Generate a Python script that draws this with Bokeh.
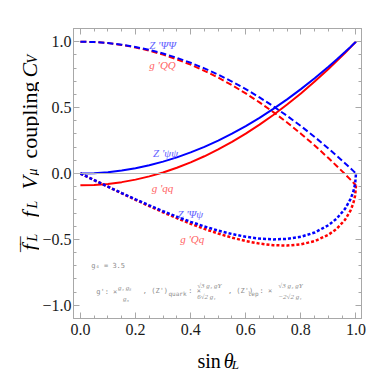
import math
from bokeh.plotting import figure
from bokeh.models import Label, LinearAxis, FixedTicker, Range1d, Span
from bokeh.layouts import row, column
from bokeh.embed import file_html
from bokeh.resources import INLINE

# ---- data ----
sin_theta = [0.0, 0.05, 0.1, 0.15, 0.2, 0.25, 0.3, 0.35, 0.4, 0.45, 0.5, 0.55,
             0.6, 0.65, 0.7, 0.75, 0.8, 0.85, 0.9, 0.93, 0.96, 0.98, 0.99, 0.997, 1.0]
# Z' psi psi (blue solid)
z_psi_psi = [0.0, 0.0025, 0.01, 0.0225, 0.04, 0.0625, 0.09, 0.1225, 0.16, 0.2025, 0.25, 0.3025,
             0.36, 0.4225, 0.49, 0.5625, 0.64, 0.7225, 0.81, 0.8649, 0.9216, 0.9604, 0.9801, 0.994, 1.0]
# g' q q (red solid)
g_q_q = [-0.09, -0.0873, -0.0791, -0.0655, -0.0464, -0.0219, 0.0081, 0.0435, 0.0844, 0.1307, 0.1825, 0.2397,
         0.3024, 0.3705, 0.4441, 0.5231, 0.6076, 0.6975, 0.7929, 0.8527, 0.9145, 0.9568, 0.9783, 0.9935, 1.0]
# Z' PSI PSI (blue dashed)
z_PSI_PSI = [1.0, 0.9975, 0.99, 0.9775, 0.96, 0.9375, 0.91, 0.8775, 0.84, 0.7975, 0.75, 0.6975,
             0.64, 0.5775, 0.51, 0.4375, 0.36, 0.2775, 0.19, 0.1351, 0.0784, 0.0396, 0.0199, 0.006, 0.0]
# g' Q Q (red dashed)
g_Q_Q = [1.0, 0.9973, 0.9891, 0.9755, 0.9564, 0.9319, 0.9019, 0.8665, 0.8256, 0.7793, 0.7275, 0.6703,
         0.6076, 0.5395, 0.4659, 0.3869, 0.3024, 0.2125, 0.1171, 0.0573, -0.0045, -0.0468, -0.0683, -0.0835, -0.09]
# Z' PSI psi (blue dotted)
z_PSI_psi = [0.0, -0.0499, -0.0995, -0.1483, -0.196, -0.2421, -0.2862, -0.3279, -0.3666, -0.4019, -0.433, -0.4593,
             -0.48, -0.494, -0.4999, -0.4961, -0.48, -0.4478, -0.3923, -0.3418, -0.2688, -0.195, -0.1397, -0.0772, 0.0]
# g' Q q (red dotted)
g_Q_q = [0.0, -0.0501, -0.1004, -0.1503, -0.1996, -0.2477, -0.2943, -0.3389, -0.381, -0.4201, -0.4555, -0.4865,
         -0.5124, -0.532, -0.544, -0.5467, -0.5376, -0.5128, -0.4652, -0.4196, -0.3517, -0.2814, -0.2279, -0.1667, -0.09]

x_ticks = [0.0, 0.2, 0.4, 0.6, 0.8, 1.0]
x_tick_labels = ["0.0", "0.2", "0.4", "0.6", "0.8", "1.0"]
y_ticks = [-1.0, -0.5, 0.0, 0.5, 1.0]
y_tick_labels = ["\u22121.0", "\u22120.5", "0.0", "0.5", "1.0"]
x_minor = [round(0.05 * i, 3) for i in range(0, 21)]
y_minor = [round(-1.1 + 0.1 * i, 3) for i in range(0, 23)]

BLUE = "#0000ff"
RED = "#ff0000"
BLUE_T = "#6464ff"
RED_T = "#ff6464"
GRAY_T = "#8c8c8c"
FRAME = "#a8a8a8"
SERIF = "Liberation Serif"
MONO = "DejaVu Sans Mono"

# main figure: canvas spans page x 39..390, y 0..343; frame page x 70..361, y 28..318
p = figure(width=351, height=343, x_range=Range1d(-0.025, 1.02), y_range=Range1d(-1.1, 1.1),
           output_backend="svg", toolbar_location=None,
           min_border_left=31, min_border_right=29, min_border_top=28, min_border_bottom=25,
           background_fill_color="white", border_fill_color="white")
p.grid.visible = False
p.outline_line_color = FRAME
p.xaxis.visible = False
p.yaxis.visible = False

def style_axis(ax, ticks, minor, labels, show):
    ax.ticker = FixedTicker(ticks=ticks, minor_ticks=minor)
    ax.axis_line_color = FRAME
    ax.major_tick_line_color = FRAME
    ax.minor_tick_line_color = FRAME
    ax.major_tick_in = 6
    ax.major_tick_out = 0
    ax.minor_tick_in = 3
    ax.minor_tick_out = 0
    if show:
        ax.major_label_overrides = dict(zip(ticks, labels))
        ax.major_label_text_font = SERIF
        ax.major_label_text_font_size = "16px"
        ax.major_label_text_color = "#1a1a1a"
    else:
        ax.major_label_text_font_size = "1px"
        ax.major_label_text_color = None
        ax.major_label_standoff = 0

bottom = LinearAxis()
style_axis(bottom, x_ticks, x_minor, x_tick_labels, True)
bottom.major_label_standoff = 5
left = LinearAxis()
style_axis(left, y_ticks, y_minor, y_tick_labels, True)
left.major_label_standoff = 2
top = LinearAxis()
style_axis(top, x_ticks, x_minor, x_tick_labels, False)
right = LinearAxis()
style_axis(right, y_ticks, y_minor, y_tick_labels, False)
p.add_layout(bottom, "below")
p.add_layout(left, "left")
p.add_layout(top, "above")
p.add_layout(right, "right")

p.add_layout(Span(location=0, dimension="width", line_color="#b4b4b4", line_width=1))

# curves (red first, blue on top)
p.line(sin_theta, g_q_q, line_color=RED, line_width=2)
p.line(sin_theta, g_Q_Q, line_color=RED, line_width=2, line_dash="6 3")
p.line(sin_theta, g_Q_q, line_color=RED, line_width=2.5, line_dash="3 2")
p.line(sin_theta, z_psi_psi, line_color=BLUE, line_width=2)
p.line(sin_theta, z_PSI_PSI, line_color=BLUE, line_width=2, line_dash="6 3")
p.line(sin_theta, z_PSI_psi, line_color=BLUE, line_width=2.5, line_dash="3 2")

# page-pixel -> data helpers for annotation placement inside the main frame
def dx(px):
    return (px - 76.96) / 278.47

def dy(py):
    return (173.0 - py) / 131.8

def lab(fig, text, x, y, size, color="black", font=SERIF, style="normal",
        align="left", baseline="middle", angle=0.0):
    fig.add_layout(Label(x=x, y=y, text=text, text_font=font, text_font_size=size,
                         text_font_style=style, text_color=color, text_align=align,
                         text_baseline=baseline, angle=angle))

def mlab(text, px, py, size, color, font, style="normal", align="left"):
    lab(p, text, dx(px), dy(py), size, color, font, style, align)

# curve labels
mlab("Z '\u03a8\u03a8", 160, 45, "11px", BLUE_T, SERIF, "italic", "center")
mlab("g 'QQ", 160, 65, "11px", RED_T, SERIF, "italic", "center")
mlab("Z '\u03c8\u03c8", 163, 153, "11px", BLUE_T, SERIF, "italic", "center")
mlab("g 'qq", 160, 187, "11px", RED_T, SERIF, "italic", "center")
mlab("Z '\u03a8\u03c8", 188, 213, "11px", BLUE_T, SERIF, "italic", "center")
mlab("g 'Qq", 190, 238, "11px", RED_T, SERIF, "italic", "center")

# gray notes
mlab("g\u2084 = 3.5", 88, 265, "7px", GRAY_T, MONO)
mlab("g': \u00d7", 93, 291, "7px", GRAY_T, MONO)
mlab("g\u2084 g\u209b", 115, 287, "7px", GRAY_T, SERIF, "italic")
mlab("g\u2083", 120, 298, "7px", GRAY_T, SERIF, "italic")
mlab(", (Z')", 140, 290, "7px", GRAY_T, MONO)
mlab("quark", 166, 293, "6px", GRAY_T, MONO)
mlab(": \u00d7", 186, 290, "7px", GRAY_T, MONO)
mlab("\u221a3  g\u2084 gY", 195, 285, "7px", GRAY_T, SERIF, "italic")
mlab("6\u221a2  g\u2081", 195, 296, "7px", GRAY_T, SERIF, "italic")
mlab(", (Z')", 226, 290, "7px", GRAY_T, MONO)
mlab("lep", 246, 293, "6px", GRAY_T, MONO)
mlab(": \u00d7", 258, 290, "7px", GRAY_T, MONO)
mlab("\u221a3  g\u2084 gY", 277, 285, "7px", GRAY_T, SERIF, "italic")
mlab("\u22122\u221a2  g\u2081", 277, 296, "7px", GRAY_T, SERIF, "italic")

# ---- y-axis label panel (coordinates = page pixels) ----
ylab = figure(width=39, height=376, x_range=Range1d(0, 39), y_range=Range1d(376, 0),
              output_backend="svg", toolbar_location=None, x_axis_type=None, y_axis_type=None,
              min_border=0, min_border_left=0, min_border_right=0, min_border_top=0, min_border_bottom=0,
              outline_line_color=None, background_fill_color="white", border_fill_color="white")
ylab.grid.visible = False
A = math.pi / 2
def ypiece(text, px, py, size, style="normal"):
    lab(ylab, text, px, py, size, "black", SERIF, style, "left", "alphabetic", A)

BX = 29   # baseline of the main y-label text
SX = 32   # baseline of subscripts
ypiece("f", BX, 250, "22px", "italic")
ypiece("\u203e\u203e", BX, 251, "22px")
ypiece("L", SX, 241, "14px", "italic")
ypiece("f", BX, 217, "22px", "italic")
ypiece("L", SX, 208, "14px", "italic")
ypiece("V", BX, 189, "22px", "italic")
ypiece("\u03bc", SX, 175, "14px", "italic")
ypiece("coupling", BX, 158, "22px")
ypiece("C", BX, 77, "22px", "italic")
ypiece("V", SX, 63, "14px", "italic")

# ---- x-axis label panel (coordinates = page pixels) ----
xlab = figure(width=351, height=33, x_range=Range1d(39, 390), y_range=Range1d(376, 343),
              output_backend="svg", toolbar_location=None, x_axis_type=None, y_axis_type=None,
              min_border=0, min_border_left=0, min_border_right=0, min_border_top=0, min_border_bottom=0,
              outline_line_color=None, background_fill_color="white", border_fill_color="white")
xlab.grid.visible = False
lab(xlab, "sin", 190, 360, "20px", "black", SERIF, "normal", "left", "alphabetic")
lab(xlab, "\u03b8", 222, 360, "20px", "black", SERIF, "italic", "left", "alphabetic")
lab(xlab, "L", 232, 364, "13px", "black", SERIF, "italic", "left", "alphabetic")

layout = row(ylab, column(p, xlab, spacing=0), spacing=0)

open("out.html", "w").write(file_html(layout, INLINE))
